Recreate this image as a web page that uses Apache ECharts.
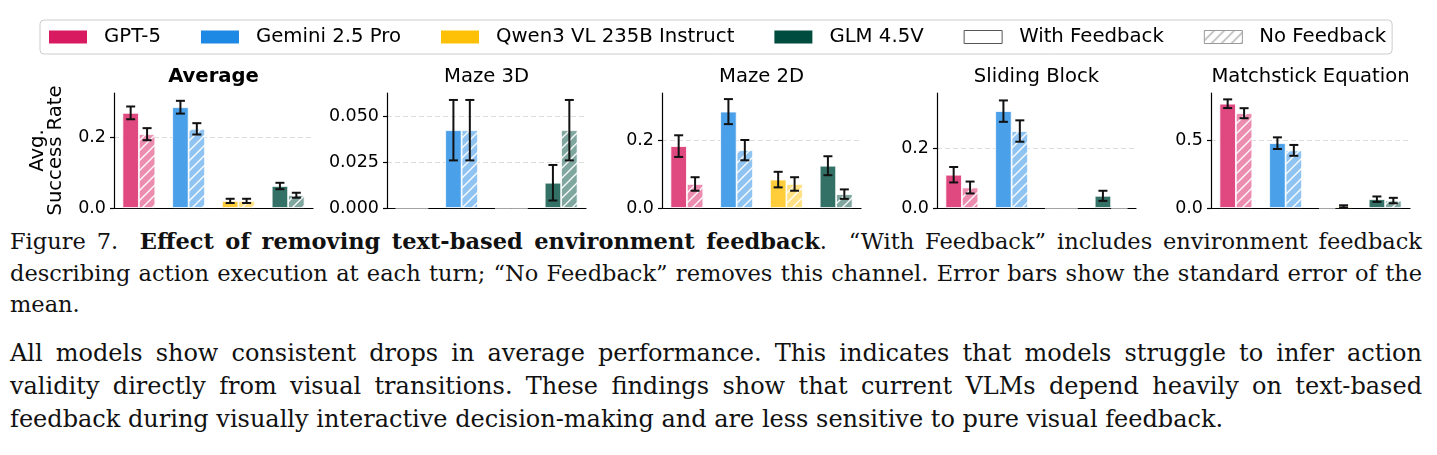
<!DOCTYPE html>
<html>
<head>
<meta charset="utf-8">
<script src="https://cdn.jsdelivr.net/npm/echarts@6/dist/echarts.min.js"></script>
<style>
  html, body { margin: 0; padding: 0; background: #fff; }
  #chart { position: absolute; left: 0; top: 0; width: 1437px; height: 225px; }
  .txt { position: absolute; left: 10px; width: 1412px; font-family: "DejaVu Serif", serif; color: #111; }
  #caption { top: 226px; font-size: 22.5px; line-height: 31.5px; }
  #para { top: 337px; font-size: 24px; line-height: 33px; }
  .j { text-align: justify; text-align-last: justify; }
</style>
</head>
<body>
<div id="chart"></div>
<div id="caption" class="txt">
  <div class="j">Figure 7.&nbsp; <b>Effect of removing text-based environment feedback</b>.&nbsp; “With Feedback” includes environment feedback</div>
  <div class="j">describing action execution at each turn; “No Feedback” removes this channel. Error bars show the standard error of the</div>
  <div>mean.</div>
</div>
<div id="para" class="txt">
  <div class="j">All models show consistent drops in average performance. This indicates that models struggle to infer action</div>
  <div class="j">validity directly from visual transitions. These findings show that current VLMs depend heavily on text-based</div>
  <div>feedback during visually interactive decision-making and are less sensitive to pure visual feedback.</div>
</div>
<script>
// models on the x axis of every panel
const categories = ['GPT-5', 'Gemini 2.5 Pro', 'Qwen3 VL 235B Instruct', 'GLM 4.5V'];
const panels = ['Average', 'Maze 3D', 'Maze 2D', 'Sliding Block', 'Matchstick Equation'];

// success rate with text feedback, one row per panel
const withFeedback = [
    [0.268, 0.284, 0.020, 0.062],
    [0, 0.0425, 0, 0.0138],
    [0.183, 0.285, 0.084, 0.125],
    [0.112, 0.326, 0, 0.041],
    [0.769, 0.478, 0, 0.065]
];
const withFeedbackErr = [
    [0.018, 0.018, 0.006, 0.009],
    [0, 0.0165, 0, 0.0097],
    [0.032, 0.037, 0.023, 0.028],
    [0.026, 0.036, 0, 0.017],
    [0.032, 0.043, 0, 0.020]
];
// success rate without feedback
const noFeedback = [
    [0.208, 0.223, 0.020, 0.036],
    [0, 0.0425, 0, 0.0425],
    [0.071, 0.171, 0.071, 0.041],
    [0.069, 0.259, 0, 0],
    [0.699, 0.425, 0.012, 0.055]
];
const noFeedbackErr = [
    [0.017, 0.016, 0.006, 0.007],
    [0, 0.0165, 0, 0.0165],
    [0.020, 0.030, 0.020, 0.014],
    [0.020, 0.036, 0, 0],
    [0.037, 0.040, 0.008, 0.020]
];

// y axis ranges and tick labels
const yMax = [0.324, 0.0628, 0.34, 0.387, 0.848];
const yTicks = [[0, 0.2], [0, 0.025, 0.05], [0, 0.2], [0, 0.2], [0, 0.5]];
const yDecimals = [1, 3, 1, 1, 1];

const modelColors = ['#D81B60', '#1E88E5', '#FFC107', '#004D40'];
const gridLefts = [114, 387, 662, 937, 1211];
const gridWidth = 199;
const barFrac = 0.33;
const font = 'DejaVu Sans';

function mix(hex, a) {
    const n = parseInt(hex.slice(1), 16);
    const ch = [(n >> 16) & 255, (n >> 8) & 255, n & 255].map(v => Math.round(v * a + 255 * (1 - a)));
    return 'rgb(' + ch.join(',') + ')';
}

function hatch(bg, line, lw) {
    const s = 10;
    const c = document.createElement('canvas');
    c.width = s; c.height = s;
    const ctx = c.getContext('2d');
    ctx.fillStyle = bg;
    ctx.fillRect(0, 0, s, s);
    ctx.strokeStyle = line;
    ctx.lineWidth = lw;
    ctx.beginPath();
    ctx.moveTo(0, s); ctx.lineTo(s, 0);
    ctx.moveTo(-s / 2, s / 2); ctx.lineTo(s / 2, -s / 2);
    ctx.moveTo(s / 2, s * 1.5); ctx.lineTo(s * 1.5, s / 2);
    ctx.stroke();
    return { image: c, repeat: 'repeat' };
}

function renderErr(params, api) {
    const e = api.value(2);
    if (!(e > 0)) return;
    const i = api.value(0), v = api.value(1), side = api.value(3);
    const band = api.size([1, 0])[0];
    const x = api.coord([i, v])[0] + side * band * barFrac / 2;
    const yHi = api.coord([i, v + e])[1];
    const yLo = api.coord([i, v - e])[1];
    const cap = 4.5;
    const style = { stroke: '#111', lineWidth: 2 };
    return {
        type: 'group',
        children: [
            { type: 'line', shape: { x1: x, y1: yLo, x2: x, y2: yHi }, style: style },
            { type: 'line', shape: { x1: x - cap, y1: yHi, x2: x + cap, y2: yHi }, style: style },
            { type: 'line', shape: { x1: x - cap, y1: yLo, x2: x + cap, y2: yLo }, style: style }
        ]
    };
}

// shrink a text block if a line would not fit on one row
function fitBlock(id) {
    const block = document.getElementById(id);
    const target = block.clientWidth;
    let maxW = 0;
    block.querySelectorAll('div').forEach(function (d) {
        const s = document.createElement('span');
        s.style.whiteSpace = 'nowrap';
        while (d.firstChild) s.appendChild(d.firstChild);
        d.appendChild(s);
        maxW = Math.max(maxW, s.getBoundingClientRect().width);
    });
    if (maxW > target) {
        const fs = parseFloat(getComputedStyle(block).fontSize);
        block.style.fontSize = (fs * target / maxW * 0.995) + 'px';
    }
}
fitBlock('caption');
fitBlock('para');

const chart = echarts.init(document.getElementById('chart'));

const grids = [], xAxes = [], yAxes = [], titles = [], series = [];

panels.forEach(function (p, i) {
    grids.push({ left: gridLefts[i], top: 93, width: gridWidth, height: 115 });
    titles.push({
        text: p,
        left: gridLefts[i] + gridWidth / 2,
        top: 67,
        padding: 0,
        textAlign: 'center',
        textStyle: { fontFamily: font, fontSize: 19.6, fontWeight: i === 0 ? 'bold' : 'normal', color: '#000' }
    });
    xAxes.push({
        gridIndex: i,
        type: 'category',
        data: categories,
        axisLine: { lineStyle: { color: '#000', width: 1.2 } },
        axisTick: { alignWithLabel: true, length: 5, lineStyle: { color: '#000', width: 1.2 } },
        axisLabel: { show: false },
        splitLine: { show: false }
    });
    const dec = yDecimals[i];
    const y = {
        gridIndex: i,
        type: 'value',
        min: 0,
        max: yMax[i],
        interval: yTicks[i][1],
        axisLine: { show: true, lineStyle: { color: '#000', width: 1.2 } },
        axisTick: { show: true, length: 4, customValues: yTicks[i], lineStyle: { color: '#000', width: 1.2 } },
        axisLabel: {
            fontFamily: font, fontSize: 17.5, color: '#000', margin: 8,
            customValues: yTicks[i],
            formatter: function (v) { return v.toFixed(dec); }
        },
        splitLine: { show: true, showMinLine: false, lineStyle: { color: '#dddddd', type: [5, 3], width: 1 } }
    };
    if (i === 0) {
        y.name = 'Avg.\nSuccess Rate';
        y.nameLocation = 'middle';
        y.nameGap = 49;
        y.nameRotate = 90;
        y.nameTextStyle = { fontFamily: font, fontSize: 19.6, lineHeight: 18, color: '#000' };
    }
    yAxes.push(y);

    series.push({
        name: p + ' with',
        type: 'bar',
        xAxisIndex: i, yAxisIndex: i,
        barWidth: (barFrac * 100) + '%',
        barGap: '0%',
        data: withFeedback[i].map(function (v, k) {
            return { value: v, itemStyle: { color: mix(modelColors[k], 0.8) } };
        }),
        itemStyle: { borderColor: '#fff', borderWidth: 0.8 },
        silent: true
    });
    series.push({
        name: p + ' no',
        type: 'bar',
        xAxisIndex: i, yAxisIndex: i,
        barWidth: (barFrac * 100) + '%',
        barGap: '0%',
        data: noFeedback[i].map(function (v, k) {
            return { value: v, itemStyle: { color: hatch(mix(modelColors[k], 0.5), 'rgba(255,255,255,0.95)', 1.4) } };
        }),
        itemStyle: { borderColor: '#fff', borderWidth: 0.8 },
        silent: true
    });
    const errData = [];
    categories.forEach(function (c, k) {
        errData.push([k, withFeedback[i][k], withFeedbackErr[i][k], -1]);
        errData.push([k, noFeedback[i][k], noFeedbackErr[i][k], 1]);
    });
    series.push({
        name: p + ' err',
        type: 'custom',
        xAxisIndex: i, yAxisIndex: i,
        renderItem: renderErr,
        encode: { x: 0, y: 1 },
        data: errData,
        z: 5,
        silent: true
    });
});

// legend-only series
const legendItems = categories.map(function (c, k) {
    return { name: c, icon: 'rect', itemStyle: { color: modelColors[k], borderWidth: 0, opacity: 1 } };
});
legendItems.push({ name: 'With Feedback', icon: 'rect', itemStyle: { color: '#fff', borderColor: '#555', borderWidth: 1, opacity: 1 } });
legendItems.push({ name: 'No Feedback', icon: 'rect', itemStyle: { color: hatch('#fff', '#999', 1.1), borderColor: '#999', borderWidth: 1, opacity: 1 } });
legendItems.forEach(function (it) {
    series.push({ name: it.name, type: 'scatter', xAxisIndex: 0, yAxisIndex: 0, data: [], itemStyle: it.itemStyle });
});

chart.setOption({
    animation: false,
    title: titles,
    legend: {
        left: 40,
        top: 20,
        padding: [7, 6, 7, 9],
        itemGap: 40,
        itemWidth: 38,
        itemHeight: 13,
        borderColor: '#cccccc',
        borderWidth: 1,
        borderRadius: 4,
        selectedMode: false,
        textStyle: { fontFamily: font, fontSize: 19.7, lineHeight: 20, color: '#000', padding: [0, 0, 0, 12] },
        data: legendItems
    },
    grid: grids,
    xAxis: xAxes,
    yAxis: yAxes,
    series: series
});
</script>
</body>
</html>
